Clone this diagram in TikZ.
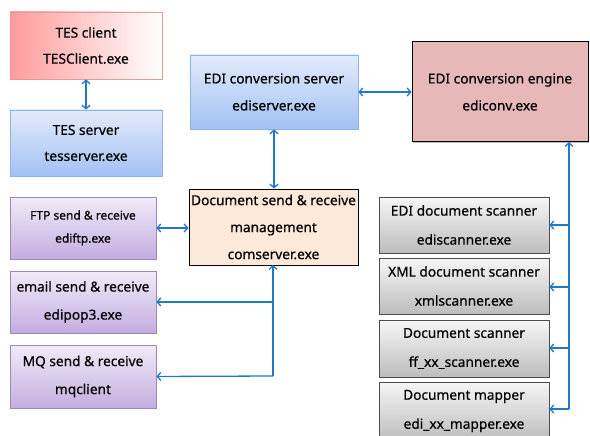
\documentclass[tikz,border=0pt]{standalone}
\usepackage{fontspec}
\setmainfont{Noto Sans}[FakeBold=0.5]
\usetikzlibrary{arrows.meta,shadows}
\definecolor{arrowblue}{HTML}{1F78C8}
\definecolor{redL}{HTML}{FF9B9B}
\definecolor{redB}{HTML}{E39A9A}
\definecolor{blueT}{HTML}{E2EBFB}
\definecolor{blueB}{HTML}{A3C1F4}
\definecolor{blueBd}{HTML}{8DB3E2}
\definecolor{purT}{HTML}{F1EBF8}
\definecolor{purB}{HTML}{C3ADE0}
\definecolor{purBd}{HTML}{9D87BF}
\definecolor{grayT}{HTML}{F6F6F6}
\definecolor{grayB}{HTML}{BDBDBD}
\definecolor{engfill}{HTML}{E6B9B8}
\definecolor{docfill}{HTML}{FDE9D9}
\tikzset{
  box/.style={rectangle, align=center, inner sep=0pt, font=\fontsize{13.7}{26}\selectfont,
    drop shadow={shadow xshift=1.2pt, shadow yshift=-1.2pt, opacity=0.25, fill=black}},
  redbox/.style={box, draw=redB, line width=0.8pt, left color=redL, right color=white},
  bluebox/.style={box, draw=blueBd, line width=0.8pt, top color=blueT, bottom color=blueB},
  purbox/.style={box, draw=purBd, line width=0.8pt, top color=purT, bottom color=purB},
  graybox/.style={box, draw=black!70, line width=0.8pt, top color=grayT, bottom color=grayB,
    font=\fontsize{13.7}{29}\selectfont},
  engbox/.style={box, draw=black, line width=1pt, fill=engfill},
  docbox/.style={box, draw=black, line width=1pt, fill=docfill, font=\fontsize{13.7}{27}\selectfont},
  conn/.style={draw=arrowblue, line width=1.3pt},
  tip/.style={-{Straight Barb[length=3.5pt,width=8pt,line width=1.3pt]}},
  tips/.style={{Straight Barb[length=3.5pt,width=8pt,line width=1.3pt]}-{Straight Barb[length=3.5pt,width=8pt,line width=1.3pt]}}
}
\begin{document}
\begin{tikzpicture}[x=1pt,y=-1pt]
\useasboundingbox (0,0) rectangle (590,436);
\clip (0,0) rectangle (590,436);
\node[redbox, minimum width=152pt, minimum height=67pt] (tesc) at (86,45.5) {TES client\\TESClient.exe};
\node[bluebox, minimum width=152pt, minimum height=66pt] (tess) at (86,143) {TES server\\tesserver.exe};
\node[bluebox, minimum width=168pt, minimum height=74pt, font=\fontsize{13.7}{27}\selectfont] (edis) at (274,92) {EDI conversion server\\ediserver.exe};
\node[engbox, minimum width=176pt, minimum height=100pt, font=\fontsize{13.7}{27}\selectfont] (eng) at (500,92) {EDI conversion engine\\ediconv.exe};
\node[docbox, minimum width=169pt, minimum height=76pt] (doc) at (273.5,227) {Document send \& receive\\management\\comserver.exe};
\node[purbox, minimum width=146pt, minimum height=62pt, font=\fontsize{12}{23}\selectfont] (ftp) at (83,228) {FTP send \& receive\\ediftp.exe};
\node[purbox, minimum width=146pt, minimum height=62pt, font=\fontsize{13.7}{28}\selectfont] (email) at (83,302) {email send \& receive\\edipop3.exe};
\node[purbox, minimum width=146pt, minimum height=63pt, font=\fontsize{13.7}{28}\selectfont] (mq) at (83,376.5) {MQ send \& receive\\mqclient};
\node[graybox, minimum width=170pt, minimum height=56pt] (g1) at (464,225) {EDI document scanner\\ediscanner.exe};
\node[graybox, minimum width=170pt, minimum height=56pt] (g2) at (464,286) {XML document scanner\\xmlscanner.exe};
\node[graybox, minimum width=170pt, minimum height=57pt] (g3) at (464,348.5) {Document scanner\\ff\_xx\_scanner.exe};
\node[graybox, minimum width=170pt, minimum height=58pt] (g4) at (464,411) {Document mapper\\edi\_xx\_mapper.exe};
% connectors
\draw[conn,tips] (tesc.south) -- (tess.north);
\draw[conn,tips] (edis.east) -- (eng.west);
\draw[conn,tips] (edis.south) -- (edis.south |- doc.north);
\draw[conn,tips] (ftp.east) -- (doc.west |- ftp.east);
\coordinate (jd) at (273,265);
\coordinate (je) at (273,302);
\coordinate (jm) at (273,376);
\draw[conn,tip] (jm) -- (jd);
\draw[conn,tip] (je) -- (email.east);
\draw[conn,tip] (jm) -- (mq.east);
\coordinate (rtop) at (569,142);
\coordinate (r1) at (569,225);
\coordinate (r2) at (569,287);
\coordinate (r3) at (569,348);
\coordinate (r4) at (569,409);
\draw[conn,tip] (r4) -- (rtop);
\draw[conn,tip] (r1) -- (g1.east |- r1);
\draw[conn,tip] (r2) -- (g2.east |- r2);
\draw[conn,tip] (r3) -- (g3.east |- r3);
\draw[conn,tip] (r4) -- (g4.east |- r4);
\end{tikzpicture}
\end{document}
